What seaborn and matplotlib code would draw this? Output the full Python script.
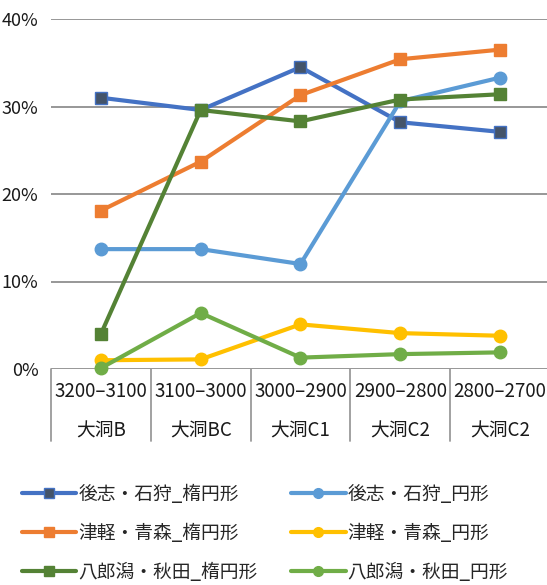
import matplotlib
matplotlib.use("Agg")
import matplotlib.pyplot as plt
import matplotlib.transforms as mtransforms
import seaborn as sns
import pandas as pd
from matplotlib.lines import Line2D

# ---- data ----
periods = ["3200–3100", "3100–3000", "3000–2900", "2900–2800", "2800–2700"]
phases = ["大洞B", "大洞BC", "大洞C1", "大洞C2", "大洞C2"]

series_names = ["後志・石狩_楕円形", "後志・石狩_円形",
                "津軽・青森_楕円形", "津軽・青森_円形",
                "八郎潟・秋田_楕円形", "八郎潟・秋田_円形"]
shiribeshi_oval = [31.0, 29.6, 34.5, 28.2, 27.1]
shiribeshi_round = [13.7, 13.7, 12.0, 30.6, 33.3]
tsugaru_oval = [18.1, 23.7, 31.3, 35.4, 36.5]
tsugaru_round = [1.0, 1.1, 5.1, 4.1, 3.8]
hachirogata_oval = [4.0, 29.6, 28.3, 30.8, 31.4]
hachirogata_round = [0.1, 6.4, 1.3, 1.7, 1.9]
yticks = [0, 10, 20, 30, 40]

values = [shiribeshi_oval, shiribeshi_round, tsugaru_oval,
          tsugaru_round, hachirogata_oval, hachirogata_round]

colors = ["#4472C4", "#5B9BD5", "#ED7D31", "#FFC000", "#548235", "#70AD47"]
markers = ["s", "o", "s", "o", "s", "o"]
mfaces = ["#44546A", "#5B9BD5", "#ED7D31", "#FFC000", "#548235", "#70AD47"]

sns.set_theme(style="white")
plt.rcParams["font.family"] = ["Noto Sans CJK JP", "DejaVu Sans"]

fig = plt.figure(figsize=(5.47, 5.85), dpi=100)
ax = fig.add_axes([51 / 547, 216 / 585, 499 / 547, 350 / 585])

xpos = list(range(len(periods)))
for name, vals, c, m, fc in zip(series_names, values, colors, markers, mfaces):
    df = pd.DataFrame({"x": xpos, "y": vals})
    sns.lineplot(data=df, x="x", y="y", ax=ax, color=c, linewidth=3.0,
                 marker=m, markersize=8 if m == "s" else 9,
                 markerfacecolor=fc, markeredgecolor=c, markeredgewidth=1.0,
                 clip_on=False, label=name, legend=False)

ax.set_xlim(-0.5, len(periods) - 0.5)
ax.set_ylim(0, 40)
ax.set_yticks(yticks)
ax.set_yticklabels([f"{v}%" for v in yticks], fontsize=13, color="#1a1a1a")
ax.tick_params(axis="y", length=0, pad=9)
ax.set_xticks([])
ax.set_xlabel("")
ax.set_ylabel("")
for s in ax.spines.values():
    s.set_visible(False)
for v in yticks:
    ax.axhline(v, color="#8f8f8f", linewidth=1.3, zorder=0)

# two-level category labels with separators
trans = mtransforms.blended_transform_factory(ax.transData, ax.transAxes)
for b in range(len(periods) + 1):
    ax.plot([b - 0.5, b - 0.5], [0, -0.205], transform=trans, color="#9a9a9a",
            linewidth=1.3, clip_on=False)
for i, (p, ph) in enumerate(zip(periods, phases)):
    ax.text(i, -0.063, p, transform=trans, ha="center", va="center",
            fontsize=13.5, color="#1a1a1a")
    ax.text(i, -0.177, ph, transform=trans, ha="center", va="center",
            fontsize=13.5, color="#1a1a1a")

# legend (row-major order in 2 columns)
handles = []
for name, c, m, fc in zip(series_names, colors, markers, mfaces):
    handles.append(Line2D([0], [0], color=c, linewidth=3.0, marker=m,
                          markersize=7, markerfacecolor=fc,
                          markeredgecolor=c, label=name))
order = [0, 2, 4, 1, 3, 5]
fig.legend(handles=[handles[i] for i in order], loc="upper left",
           bbox_to_anchor=(22 / 547, 1 - 484 / 585),
           ncol=2, frameon=False, fontsize=13.5, handlelength=2.9,
           handletextpad=0.1, columnspacing=1.8, labelspacing=0.95,
           borderaxespad=0, borderpad=0)

fig.savefig("out.png", dpi=100)
